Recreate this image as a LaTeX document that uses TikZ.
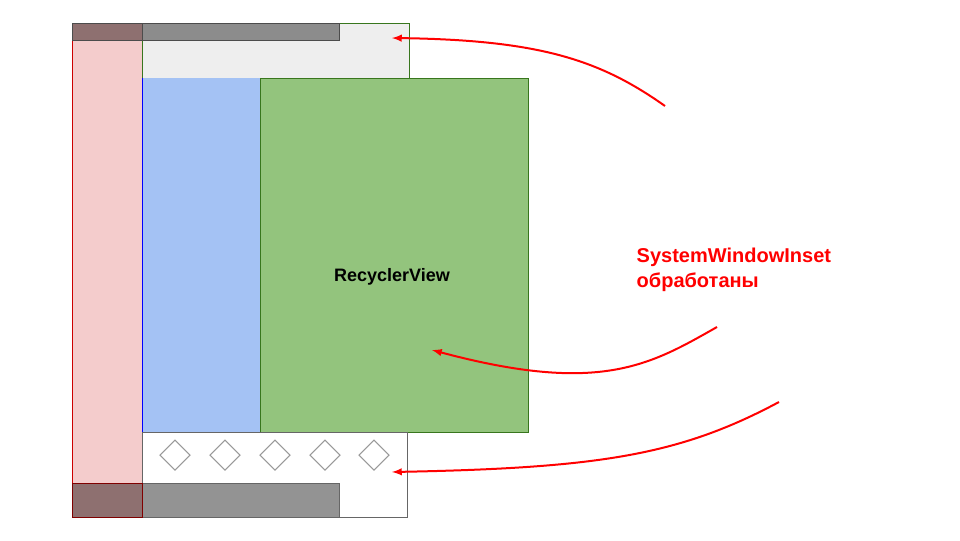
\documentclass[tikz,border=0pt]{standalone}
\usepackage{fontspec}
\setmainfont{Liberation Sans}
\begin{document}
\begin{tikzpicture}[x=0.75pt,y=-0.75pt,
  arr/.style={red,line width=1.5pt,-latex},
  dia/.style={draw=gray!80,line width=0.8pt}]
\useasboundingbox (0,0) rectangle (960,540);
\definecolor{pinkf}{HTML}{F4CCCC}
\definecolor{greyf}{HTML}{EEEEEE}
\definecolor{bluef}{HTML}{A4C2F4}
\definecolor{greenf}{HTML}{93C47D}
\definecolor{dgreen}{HTML}{38761D}
\definecolor{dark}{HTML}{8E7070}
\path[fill=pinkf,draw=red!80!black] (72,23) rectangle (142,517);
\path[fill=greyf,draw=dgreen] (142,23) rectangle (409,78);
\path[fill=gray!90,draw=black!70] (142,23) rectangle (339,40);
\path[fill=dark,draw=black!70] (72,23) rectangle (142,40);
\path[fill=bluef] (142,78) rectangle (260,432);
\draw[blue] (142,78) -- (142,432);
\node[draw=dgreen,fill=greenf,minimum width=268*0.75pt,minimum height=354*0.75pt,anchor=north west,inner sep=0] (rv) at (260,78) {};
\node[font=\bfseries\fontsize{13.5}{16}\selectfont] (rvt) at (392,277) {RecyclerView};
\path[fill=white,draw=black!60] (142,432) rectangle (407,517);
\path[fill=gray!85,draw=black!60] (142,483) rectangle (339,517);
\path[fill=dark,draw=red!50!black] (72,483) rectangle (142,517);
\foreach \x in {175,225,275,325,374}
  \draw[dia] (\x-15,455) -- (\x,440) -- (\x+15,455) -- (\x,470) -- cycle;
\node[anchor=west,align=left,red,font=\bfseries\fontsize{15}{19}\selectfont] (lbl) at (632,270) {SystemWindowInset\\обработаны};
\coordinate (a1s) at (665,106); \coordinate (a1e) at (392,38);
\coordinate (a2s) at (717,327); \coordinate (a2e) at (432,350);
\coordinate (a3s) at (779,402); \coordinate (a3e) at (392,472);
\draw[arr] (a1s) .. controls (600,60) and (540,40) .. (a1e);
\draw[arr] (a2s) .. controls (650,365) and (600,395) .. (a2e);
\draw[arr] (a3s) .. controls (680,455) and (600,468) .. (a3e);
\end{tikzpicture}
\end{document}
